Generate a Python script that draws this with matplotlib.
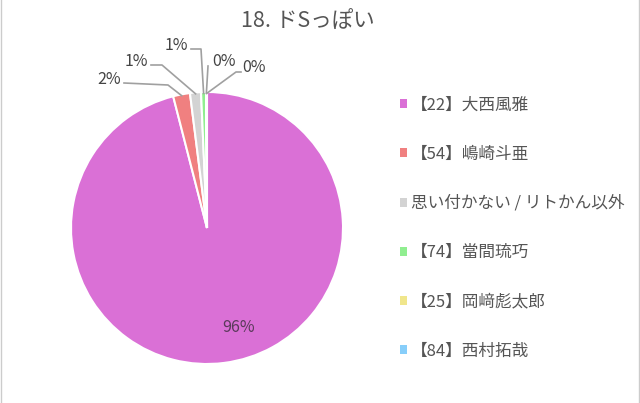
import numpy as np
import matplotlib
matplotlib.use('Agg')
import matplotlib.pyplot as plt
from matplotlib.lines import Line2D
from matplotlib.patches import Patch

plt.rcParams['font.family'] = ['Noto Sans CJK JP', 'DejaVu Sans']

title = '18. ドSっぽい'
names = ['【22】大西風雅', '【54】嶋崎斗亜', '思い付かない / リトかん以外',
         '【74】當間琉巧', '【25】岡﨑彪太郎', '【84】西村拓哉']
shares = [96.0, 2.0, 1.3, 0.6, 0.05, 0.05]
pct_text = ['96%', '2%', '1%', '1%', '0%', '0%']
colors = ['#da70d6', '#f08080', '#d3d3d3', '#90ee90', '#f0e68c', '#87cefa']

W, H = 640, 403
cx, cy, r = 207, 228, 136

fig = plt.figure(figsize=(6.4, 4.03), dpi=100)
ax = fig.add_axes([(cx - r) / W, (H - cy - r) / H, 2 * r / W, 2 * r / H])
wedges, _ = ax.pie(shares, colors=colors, startangle=90, counterclock=False,
                   radius=1, wedgeprops=dict(edgecolor='white', linewidth=1.5))
ax.set_xlim(-1, 1)
ax.set_ylim(-1, 1)
ax.set_aspect('equal')
ax.axis('off')


def px(x, y):
    # pixel position -> pie data coords
    return (x - cx) / r, (cy - y) / r


# outside label layout (pixels): text anchor, elbow point
lab_pos = [None, (121, 79), (148, 62), (188, 46), (224, 61), (254, 67)]
lab_ha = [None, 'right', 'right', 'right', 'center', 'center']
elbows = [None, [(124, 83), (168, 85)], [(151, 65), (162, 65)],
          [(191, 49), (201, 49)], [(208, 66)], [(241, 72), (236, 72)]]

for i, w in enumerate(wedges):
    mid = np.deg2rad((w.theta1 + w.theta2) / 2)
    if i == 0:
        ax.text(0.23, -0.73, pct_text[i], ha='center', va='center',
                fontsize=11.5, color='#5a3a5a')
        continue
    ax_x, ax_y = 0.99 * np.cos(mid), 0.99 * np.sin(mid)
    pts = [px(*p) for p in elbows[i]] + [(ax_x, ax_y)]
    xs, ys = zip(*pts)
    ax.plot(xs, ys, color='#a0a0a0', lw=1.2, clip_on=False)
    tx, ty = px(*lab_pos[i])
    ax.text(tx, ty, pct_text[i], ha=lab_ha[i], va='center', fontsize=11.5,
            color='#444444', clip_on=False)

fig.text(308 / W, 1 - 22 / H, title, ha='center', va='center',
         fontsize=15.5, color='#555555')

handles = [Patch(facecolor=c, edgecolor='none') for c in colors]
leg = fig.legend(handles, names, loc='upper left',
                 bbox_to_anchor=(393 / W, 1 - 90 / H), frameon=False,
                 fontsize=12, handlelength=0.45, handleheight=0.45,
                 handletextpad=0.25, labelspacing=1.93, borderaxespad=0)
for t in leg.get_texts():
    t.set_color('#555555')

# thin side borders
fig.add_artist(Line2D([0.5 / W, 0.5 / W], [0, 1], color='#cccccc', lw=1))
fig.add_artist(Line2D([1 - 1.5 / W, 1 - 1.5 / W], [0, 1], color='#cccccc', lw=1))

fig.savefig('out.png', dpi=100, facecolor='white')
